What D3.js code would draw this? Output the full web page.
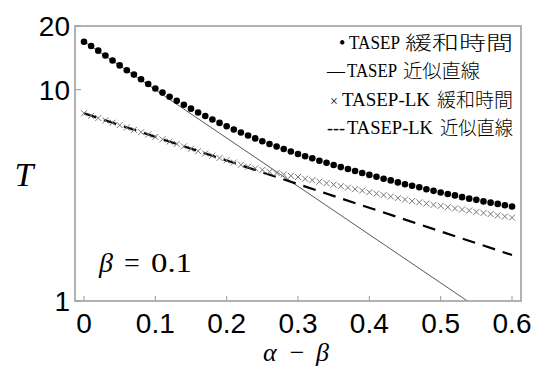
<!DOCTYPE html>
<html><head><meta charset="utf-8">
<script src="https://cdn.jsdelivr.net/npm/d3@7"></script>
<style>body{margin:0;background:#fff} svg{display:block}</style>
</head><body><svg id="c" width="536" height="367"></svg>
<script>
// ---- data ----
const xs = [0,0.01,0.02,0.03,0.04,0.05,0.06,0.07,0.08,0.09,0.1,0.11,0.12,0.13,0.14,0.15,0.16,0.17,0.18,0.19,0.2,
  0.21,0.22,0.23,0.24,0.25,0.26,0.27,0.28,0.29,0.3,0.31,0.32,0.33,0.34,0.35,0.36,0.37,0.38,0.39,0.4,
  0.41,0.42,0.43,0.44,0.45,0.46,0.47,0.48,0.49,0.5,0.51,0.52,0.53,0.54,0.55,0.56,0.57,0.58,0.59,0.6];
const tasepT = [16.85,16.09,15.29,14.51,13.74,13.02,12.35,11.78,11.19,10.63,10.12,9.68,9.25,8.85,8.48,8.13,7.80,7.50,7.22,6.96,6.71,
  6.48,6.27,6.07,5.88,5.70,5.53,5.38,5.24,5.10,4.96,4.84,4.73,4.61,4.51,4.40,4.30,4.21,4.12,4.03,3.95,
  3.87,3.79,3.72,3.64,3.57,3.51,3.45,3.38,3.32,3.26,3.21,3.16,3.10,3.05,3.01,2.96,2.92,2.88,2.84,2.80];
const lkT = [7.73,7.52,7.34,7.15,6.97,6.79,6.62,6.45,6.29,6.13,5.97,5.82,5.68,5.53,5.39,5.25,5.12,4.99,4.87,4.75,4.63,
  4.52,4.41,4.32,4.24,4.17,4.09,4.03,3.97,3.91,3.86,3.79,3.73,3.67,3.61,3.55,3.49,3.44,3.38,3.33,3.27,
  3.22,3.17,3.12,3.07,3.02,2.97,2.93,2.89,2.85,2.82,2.78,2.74,2.71,2.68,2.64,2.61,2.58,2.54,2.51,2.48];
const fitTasepX = [0, 0.6];
const fitTasepT = [16.9, 0.72];
const fitLkX = [0, 0.6];
const fitLkT = [7.73, 1.65];
const xTicks = [0,0.1,0.2,0.3,0.4,0.5,0.6];
const xTickLabels = ["0","0.1","0.2","0.3","0.4","0.5","0.6"];
const yTicks = [1,10,20];
const yTickLabels = ["1","10","20"];
const legendRows = [
  {sym:"•", latin:"TASEP", cjk:"緩和時間"},
  {sym:"—", latin:"TASEP", cjk:"近似直線"},
  {sym:"×", latin:"TASEP-LK", cjk:"緩和時間"},
  {sym:"---", latin:"TASEP-LK", cjk:"近似直線"}
];

// ---- layout ----
const L = 75, R = 521, T = 26, B = 301;
const svg = d3.select("#c");
const x = d3.scaleLinear().domain([-0.0126, 0.6126]).range([L, R]);
const y = d3.scaleLog().domain([1, 20]).range([B, T]);

svg.append("defs").append("clipPath").attr("id","clip")
  .append("rect").attr("x",L).attr("y",T).attr("width",R-L).attr("height",B-T);

const plot = svg.append("g").attr("clip-path","url(#clip)");

// fit lines
const line = d3.line().x(d=>x(d[0])).y(d=>y(d[1]));
plot.append("path").datum(fitTasepX.map((v,i)=>[v,fitTasepT[i]]))
  .attr("d",line).attr("fill","none").attr("stroke","#444").attr("stroke-width",0.9);
plot.append("path").datum(fitLkX.map((v,i)=>[v,fitLkT[i]]))
  .attr("d",line).attr("fill","none").attr("stroke","#000").attr("stroke-width",2.2)
  .attr("stroke-dasharray","13,8");

// LK crosses
const s = 3;
plot.append("g").selectAll("path").data(xs.map((v,i)=>[v,lkT[i]])).join("path")
  .attr("d", d=>{const cx=x(d[0]), cy=y(d[1]);
    return `M${cx-s},${cy-s}L${cx+s},${cy+s}M${cx-s},${cy+s}L${cx+s},${cy-s}`;})
  .attr("stroke","#777").attr("stroke-width",1).attr("fill","none");

// TASEP dots
plot.append("g").selectAll("circle").data(xs.map((v,i)=>[v,tasepT[i]])).join("circle")
  .attr("cx",d=>x(d[0])).attr("cy",d=>y(d[1])).attr("r",3.3).attr("fill","#000");

// frame
svg.append("rect").attr("x",L).attr("y",T).attr("width",R-L).attr("height",B-T)
  .attr("fill","none").attr("stroke","#999").attr("stroke-width",1.5);

// x ticks
const xg = svg.append("g");
xg.selectAll("line").data(xTicks).join("line")
  .attr("x1",d=>x(d)).attr("x2",d=>x(d)).attr("y1",B).attr("y2",B-5)
  .attr("stroke","#999").attr("stroke-width",1);
xg.selectAll("text").data(xTicks).join("text")
  .attr("x",d=>x(d)).attr("y",B+32).attr("text-anchor","middle")
  .attr("font-family","Liberation Sans, Arial, sans-serif").attr("font-size",28)
  .text((d,i)=>xTickLabels[i]);

// y ticks
const yg = svg.append("g");
yg.selectAll("line").data(yTicks).join("line")
  .attr("x1",L).attr("x2",L+6).attr("y1",d=>y(d)).attr("y2",d=>y(d))
  .attr("stroke","#999").attr("stroke-width",1);
yg.selectAll("text").data(yTicks).join("text")
  .attr("x",70).attr("y",d=>y(d)+10).attr("text-anchor","end")
  .attr("font-family","Liberation Sans, Arial, sans-serif").attr("font-size",28)
  .text((d,i)=>yTickLabels[i]);

// axis titles
const serif = "Liberation Serif, serif";
svg.append("text").attr("x",24).attr("y",186).attr("text-anchor","middle")
  .attr("font-family",serif).attr("font-style","italic").attr("font-size",34)
  .text("T");
const xt = svg.append("g").attr("font-family",serif).attr("font-size",26);
xt.append("text").attr("x",263).attr("y",361).attr("font-style","italic").text("α");
xt.append("text").attr("x",297).attr("y",361).attr("text-anchor","middle").text("−");
xt.append("text").attr("x",316).attr("y",361).attr("font-style","italic").text("β");

const ann = svg.append("g").attr("font-family",serif).attr("font-size",28);
ann.append("text").attr("x",99).attr("y",272).attr("font-style","italic").text("β");
ann.append("text").attr("x",124).attr("y",272).text("=");
ann.append("text").attr("x",151).attr("y",272)
  .attr("textLength",41).attr("lengthAdjust","spacingAndGlyphs").text("0.1");

// legend
const lg = svg.append("g").attr("font-family",serif);
const legPos = [
  {b:49, sx:339, lx:349, lw:51, cx:405, cw:108},
  {b:77, sx:327, lx:347, lw:50, cx:403, cw:77},
  {b:106, sx:330, lx:342, lw:88, cx:437, cw:76},
  {b:134, sx:327, lx:347, lw:86, cx:440, cw:73}
];
legendRows.forEach((r,i)=>{
  const p = legPos[i];
  lg.append("text").attr("x",p.sx).attr("y",p.b).attr("font-size", i===2?14:18).text(r.sym);
  lg.append("text").attr("x",p.lx).attr("y",p.b).attr("font-size",19)
    .attr("textLength",p.lw).attr("lengthAdjust","spacingAndGlyphs").text(r.latin);
  lg.append("text").attr("x",p.cx).attr("y",p.b+1).attr("font-size",19)
    .attr("font-family","Noto Sans CJK JP, sans-serif").attr("font-weight",300)
    .attr("textLength",p.cw).attr("lengthAdjust","spacingAndGlyphs").text(r.cjk);
});
</script></body></html>
